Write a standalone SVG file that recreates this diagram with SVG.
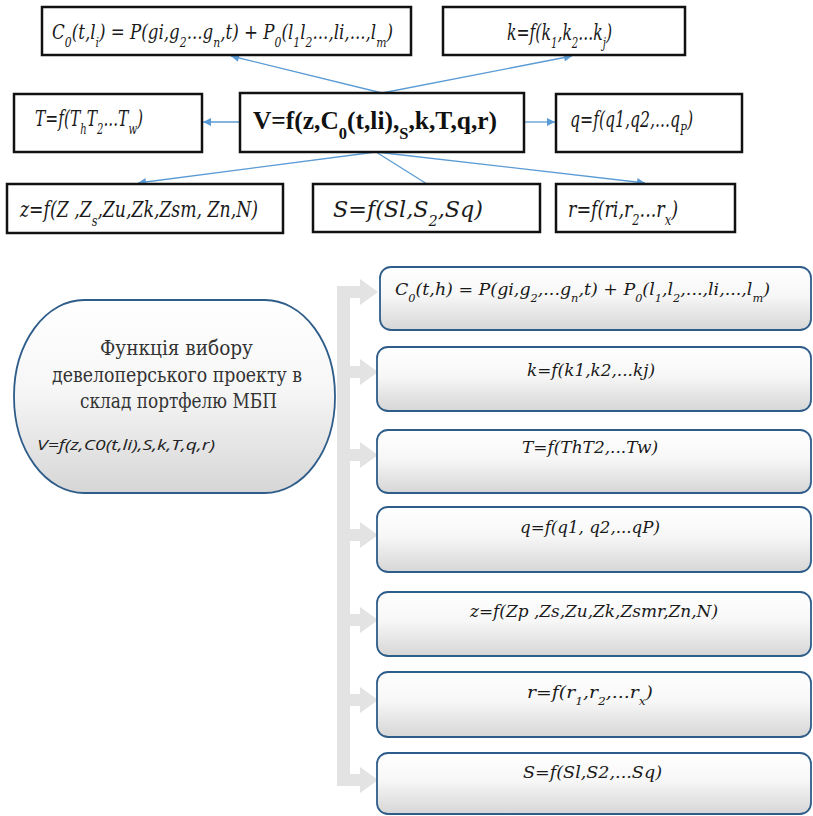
<svg xmlns="http://www.w3.org/2000/svg" width="813" height="816" viewBox="0 0 813 816">
  <defs>
    <linearGradient id="gBox" x1="0" y1="0" x2="0" y2="1">
      <stop offset="0" stop-color="#ffffff"/>
      <stop offset="0.45" stop-color="#f7f7f7"/>
      <stop offset="1" stop-color="#d6d6d6"/>
    </linearGradient>
    <marker id="ah" viewBox="0 0 10 10" refX="10" refY="5" markerWidth="10" markerHeight="8" markerUnits="userSpaceOnUse" orient="auto">
      <path d="M0,0 L10,5 L0,10 z" fill="#5b9bd5"/>
    </marker>
    <style>
      .frame{fill:#fff;stroke:#111;stroke-width:2.5}
      .pill{fill:url(#gBox);stroke:#2f5d8a;stroke-width:1.8}
      .link{stroke:#5b9bd5;stroke-width:1.3;fill:none}
      .arr{marker-end:url(#ah)}
      .s{font-size:65%;baseline-shift:sub}
      .trunk{fill:#e3e3e3}
    </style>
  </defs>

  <!-- grey bracket arrows feeding the factor list -->
  <g id="bracket">
    <rect class="trunk" x="337" y="286" width="13" height="500"/>
    <path class="trunk" d="M337,286 H360 V279 L378,292 L360,305 V298 H337 z"/>
    <path class="trunk" d="M337,366 H360 V359 L378,372 L360,385 V378 H337 z"/>
    <path class="trunk" d="M337,449 H360 V442 L378,455 L360,468 V461 H337 z"/>
    <path class="trunk" d="M337,529 H360 V522 L378,535 L360,548 V541 H337 z"/>
    <path class="trunk" d="M337,614 H360 V607 L378,620 L360,633 V626 H337 z"/>
    <path class="trunk" d="M337,694 H360 V687 L378,700 L360,713 V706 H337 z"/>
    <path class="trunk" d="M337,774 H360 V767 L378,780 L360,793 V786 H337 z"/>
  </g>

  <!-- connectors of the upper scheme -->
  <g id="connectors">
    <line class="link arr" x1="382" y1="93" x2="231" y2="56"/>
    <line class="link arr" x1="382" y1="93" x2="572" y2="56"/>
    <line class="link arr" x1="240" y1="122" x2="203" y2="122"/>
    <line class="link arr" x1="524" y1="122" x2="555" y2="122"/>
    <line class="link arr" x1="376" y1="152" x2="138" y2="183"/>
    <line class="link" x1="376" y1="152" x2="427" y2="184"/>
    <line class="link arr" x1="376" y1="152" x2="645" y2="183"/>
  </g>

  <g font-family="'DejaVu Serif', serif" font-style="italic" fill="#1a1a1a">
  <!-- upper scheme nodes -->
  <g id="top-c0">
    <rect class="frame" x="42" y="7" width="369" height="48"/>
    <text x="52" y="39" font-size="20" textLength="341" lengthAdjust="spacingAndGlyphs">C<tspan class="s">0</tspan>(t,l<tspan class="s">i</tspan>) = P(gi,g<tspan class="s">2</tspan>...g<tspan class="s">n</tspan>,t) + P<tspan class="s">0</tspan>(l<tspan class="s">1</tspan>l<tspan class="s">2</tspan>...,li,...,l<tspan class="s">m</tspan>)</text>
  </g>
  <g id="top-k">
    <rect class="frame" x="443" y="7" width="242" height="48"/>
    <text x="507" y="40" font-size="22" textLength="105" lengthAdjust="spacingAndGlyphs">k=f(k<tspan class="s">1</tspan>,k<tspan class="s">2</tspan>...k<tspan class="s">j</tspan>)</text>
  </g>
  <g id="top-t">
    <rect class="frame" x="14" y="94" width="188" height="58"/>
    <text x="35" y="126" font-size="22" textLength="108" lengthAdjust="spacingAndGlyphs">T=f(T<tspan class="s">h</tspan>T<tspan class="s">2</tspan>...T<tspan class="s">w</tspan>)</text>
  </g>
  <g id="top-v">
    <rect class="frame" x="240" y="93" width="284" height="59"/>
    <text font-family="'Liberation Serif', serif" font-style="normal" font-weight="bold" fill="#111" x="253" y="129" font-size="26" textLength="244" lengthAdjust="spacingAndGlyphs">V=f(z,C<tspan class="s">0</tspan>(t,li),<tspan class="s">S</tspan>,k,T,q,r)</text>
  </g>
  <g id="top-q">
    <rect class="frame" x="556" y="94" width="186" height="58"/>
    <text x="570" y="127" font-size="22" textLength="123" lengthAdjust="spacingAndGlyphs">q=f(q1,q2,...q<tspan class="s">P</tspan>)</text>
  </g>
  <g id="top-z">
    <rect class="frame" x="7" y="184" width="276" height="49"/>
    <text x="20" y="217" font-size="23" textLength="238" lengthAdjust="spacingAndGlyphs">z=f(Z ,Z<tspan class="s">s</tspan>,Zu,Zk,Zsm, Zn,N)</text>
  </g>
  <g id="top-s">
    <rect class="frame" x="313" y="184" width="227" height="48"/>
    <text x="333" y="217" font-size="23" textLength="150" lengthAdjust="spacingAndGlyphs">S=f(Sl,S<tspan class="s">2</tspan>,Sq)</text>
  </g>
  <g id="top-r">
    <rect class="frame" x="556" y="184" width="179" height="48"/>
    <text x="568" y="217" font-size="22" textLength="110" lengthAdjust="spacingAndGlyphs">r=f(ri,r<tspan class="s">2</tspan>...r<tspan class="s">x</tspan>)</text>
  </g>

  <!-- selection function -->
  <g id="selection">
    <rect class="pill" x="14" y="300" width="321" height="193" rx="70" ry="96"/>
    <text font-style="normal" fill="#333" font-size="20">
      <tspan x="100" y="355" textLength="153" lengthAdjust="spacingAndGlyphs">Функція вибору</tspan>
      <tspan x="52" y="382" textLength="250" lengthAdjust="spacingAndGlyphs">девелоперського проекту в</tspan>
      <tspan x="80" y="408" textLength="197" lengthAdjust="spacingAndGlyphs">склад портфелю МБП</tspan>
    </text>
    <text font-family="'Open Sans', sans-serif" fill="#222" x="37" y="450" font-size="15" textLength="178" lengthAdjust="spacingAndGlyphs">V=f(z,C0(t,li),S,k,T,q,r)</text>
  </g>

  <!-- factor list -->
  <g id="f-c0">
    <rect class="pill" x="380" y="267" width="431" height="63" rx="11"/>
    <text x="395" y="295" font-size="17" textLength="375" lengthAdjust="spacingAndGlyphs">C<tspan class="s">0</tspan>(t,h) = P(gi,g<tspan class="s">2</tspan>,...g<tspan class="s">n</tspan>,t) + P<tspan class="s">0</tspan>(l<tspan class="s">1</tspan>,l<tspan class="s">2</tspan>,...,li,...,l<tspan class="s">m</tspan>)</text>
  </g>
  <g id="f-k">
    <rect class="pill" x="377" y="347" width="434" height="64" rx="11"/>
    <text x="527" y="376" font-size="17" textLength="128" lengthAdjust="spacingAndGlyphs">k=f(k1,k2,...kj)</text>
  </g>
  <g id="f-t">
    <rect class="pill" x="377" y="430" width="434" height="63" rx="11"/>
    <text x="522" y="453" font-size="17" textLength="136" lengthAdjust="spacingAndGlyphs">T=f(ThT2,...Tw)</text>
  </g>
  <g id="f-q">
    <rect class="pill" x="377" y="507" width="434" height="65" rx="11"/>
    <text x="520" y="533" font-size="17" textLength="140" lengthAdjust="spacingAndGlyphs">q=f(q1, q2,...qP)</text>
  </g>
  <g id="f-z">
    <rect class="pill" x="377" y="592" width="434" height="64" rx="11"/>
    <text x="470" y="617" font-size="17" textLength="248" lengthAdjust="spacingAndGlyphs">z=f(Zp ,Zs,Zu,Zk,Zsmr,Zn,N)</text>
  </g>
  <g id="f-r">
    <rect class="pill" x="377" y="672" width="434" height="65" rx="11"/>
    <text x="527" y="698" font-size="17" textLength="126" lengthAdjust="spacingAndGlyphs">r=f(r<tspan class="s">1</tspan>,r<tspan class="s">2</tspan>,...r<tspan class="s">x</tspan>)</text>
  </g>
  <g id="f-s">
    <rect class="pill" x="377" y="753" width="434" height="61" rx="11"/>
    <text x="523" y="778" font-size="17" textLength="139" lengthAdjust="spacingAndGlyphs">S=f(Sl,S2,...Sq)</text>
  </g>
  </g>
</svg>
